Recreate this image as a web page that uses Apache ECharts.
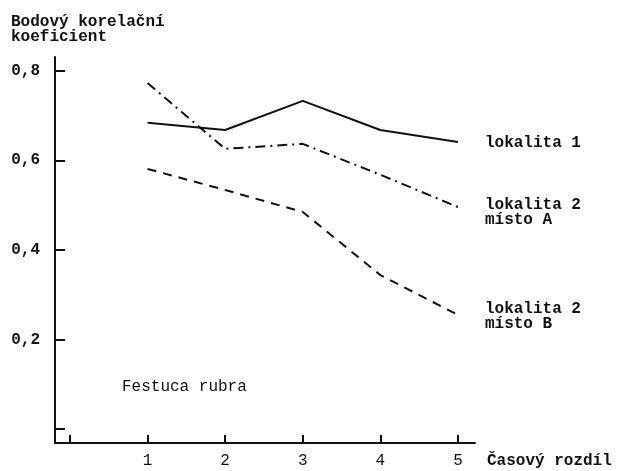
<!DOCTYPE html>
<html>
<head>
<meta charset="utf-8">
<script src="https://cdn.jsdelivr.net/npm/echarts@6/dist/echarts.min.js"></script>
<style>html,body{margin:0;padding:0;background:#fff}#c{width:617px;height:471px}</style>
</head>
<body>
<div id="c"></div>
<script>
// Data
const timeDiff = [1, 2, 3, 4, 5];
const lokalita1 = [0.684, 0.668, 0.733, 0.668, 0.641];
const lokalita2A = [0.773, 0.626, 0.637, 0.568, 0.496];
const lokalita2B = [0.581, 0.534, 0.485, 0.344, 0.255];
const xTickValues = [0, 1, 2, 3, 4, 5];
const xLabelValues = [1, 2, 3, 4, 5];
const yTickValues = [0, 0.2, 0.4, 0.6, 0.8];
const yLabelValues = [0.2, 0.4, 0.6, 0.8];
const seriesNames = ['lokalita 1', 'lokalita 2\nmísto A', 'lokalita 2\nmísto B'];

const FONT = '"Liberation Mono", "DejaVu Sans Mono", monospace';
const INK = '#111';
const txt = {fontFamily: FONT, fontSize: 16, fontWeight: 'bold', color: INK};

const pairs = arr => timeDiff.map((x, i) => [x, arr[i]]);

const chart = echarts.init(document.getElementById('c'), null, {renderer: 'canvas'});
chart.setOption({
  animation: false,
  backgroundColor: '#fff',
  title: [
    {text: 'Bodový korelační\nkoeficient', left: 11, top: 14, padding: 0,
     textStyle: Object.assign({}, txt, {lineHeight: 15})},
    {text: 'Festuca rubra', left: 122, top: 379, padding: 0,
     textStyle: Object.assign({}, txt, {fontWeight: 'normal'})}
  ],
  grid: {left: 55, right: 142, top: 57, bottom: 28, containLabel: false, outerBoundsMode: 'none'},
  xAxis: {
    type: 'value', min: -0.193, max: 5.22,
    name: 'Časový rozdíl', nameLocation: 'end', nameGap: 12,
    nameTextStyle: Object.assign({}, txt, {verticalAlign: 'top', padding: [10, 0, 0, 0]}),
    axisLine: {onZero: false, lineStyle: {color: INK, width: 2}},
    axisTick: {show: true, inside: true, length: 8, customValues: xTickValues, lineStyle: {color: INK, width: 2}},
    axisLabel: Object.assign({}, txt, {fontWeight: 'normal', margin: 10, customValues: xLabelValues}),
    splitLine: {show: false}
  },
  yAxis: {
    type: 'value', min: -0.031, max: 0.831,
    axisLine: {show: true, onZero: false, lineStyle: {color: INK, width: 2}},
    axisTick: {show: true, inside: true, length: 10, customValues: yTickValues, lineStyle: {color: INK, width: 2}},
    axisLabel: Object.assign({}, txt, {margin: 15, customValues: yLabelValues,
      formatter: v => v.toFixed(1).replace('.', ',')}),
    splitLine: {show: false}
  },
  series: [
    {name: seriesNames[0], type: 'line', data: pairs(lokalita1), symbol: 'none',
     lineStyle: {color: INK, width: 2, type: 'solid'},
     endLabel: Object.assign({show: true, formatter: seriesNames[0], distance: 27, align: 'left', lineHeight: 15, offset: [0, 1]}, txt)},
    {name: seriesNames[1], type: 'line', data: pairs(lokalita2A), symbol: 'none',
     lineStyle: {color: INK, width: 2, type: [10, 5, 2, 5]},
     endLabel: Object.assign({show: true, formatter: seriesNames[1], distance: 27, align: 'left', lineHeight: 15, offset: [0, 5]}, txt)},
    {name: seriesNames[2], type: 'line', data: pairs(lokalita2B), symbol: 'none',
     lineStyle: {color: INK, width: 2, type: [9, 7]},
     endLabel: Object.assign({show: true, formatter: seriesNames[2], distance: 27, align: 'left', lineHeight: 15, offset: [0, 2]}, txt)}
  ]
});
</script>
</body>
</html>
